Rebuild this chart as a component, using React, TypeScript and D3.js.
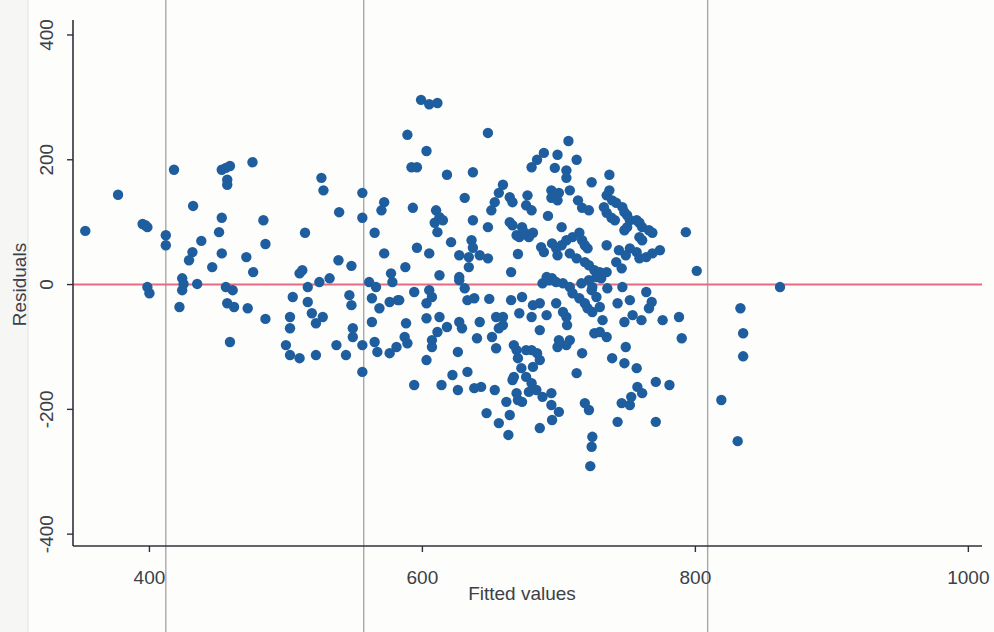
import React from "react";
import * as d3 from "d3";

const W = 994;
const H = 632;

const xTicks = [400, 600, 800, 1000];
const yTicks = [-400, -200, 0, 200, 400];
const xTitle = "Fitted values";
const yTitle = "Residuals";
const scanLines = [412, 557, 809];

// fitted values
const fitted = [
  // left region
  353, 377, 395, 397, 398.5, 398.5, 400, 412, 412, 418, 422, 424, 424, 425, 429, 431.5, 432, 435, 438, 446,
  453, 456, 459, 457, 457, 453, 451, 453, 471, 476, 475.5, 483.5, 485, 456, 461, 457, 462, 472, 459, 485,
  514, 526, 527.5, 539, 510, 512, 516, 524.5, 532, 505, 516, 519, 527, 522, 503, 503, 500, 503, 510, 522,
  537, 544, 538.5, 548, 556, 556, 565, 572, 570, 572, 577, 578, 561, 566, 563, 568.5, 576, 582, 546.5, 548,
  549, 549, 563, 556, 565, 567, 556, 576, 581,
  // upper middle
  599, 605, 611, 589, 648, 707, 603, 592, 596, 618, 637, 593, 631, 610, 612.5, 609, 615, 611, 637, 648,
  596, 605, 621, 636, 637, 587.5, 612.5, 627, 634, 642, 648, 634, 627, 665, 670, 659, 656, 653, 650.5, 664,
  666, 677, 676, 680, 664, 666, 673, 675, 678, 671, 669, 681, 692, 702, 687, 689, 695, 698, 702, 705.5,
  710, 715, 717, 719, 721, 680, 684, 689, 699, 697, 713, 705.5, 705.5, 708, 694.5, 697, 700, 694.5, 699, 714,
  717, 722, 724, 737, 737, 735, 739, 742, 733, 735, 738.5, 741, 746.5, 748, 750, 752, 748, 750, 757, 759,
  761, 766, 768.5, 759, 761, 793, 735, 744, 752, 757, 742, 749, 759, 764, 768.5, 774, 746, 801, 730, 699,
  708, 713, 719, 722, 726, 727.5, 731, 735, 691, 695,
  // lower middle
  594, 583, 605, 607, 603, 627, 631, 633, 638, 649, 603, 612.5, 618, 611, 607, 607, 603, 588, 587, 589,
  627, 629, 626, 642, 640, 654, 659, 651, 654, 656, 659, 667, 669, 594, 614, 622, 633, 626, 638, 643,
  653, 661.5, 647, 656, 664, 663, 670, 672.5, 676, 680, 684, 686, 681, 676, 680, 683.5, 667, 669, 670, 673,
  688, 694.5, 694.5, 700, 686, 695, 665, 673, 681, 686, 691, 680, 686, 703, 698, 705.5, 706, 699, 705.5, 708,
  688, 693, 698, 703, 708, 710, 715, 719, 721, 724.5, 716.5, 722, 724.5, 727.5, 730, 724, 717, 713, 719, 722,
  724.5, 724, 723, 726, 730, 735, 732, 735.5, 746.5, 764, 743, 752, 754, 760.5, 766, 768, 776, 788, 790, 748,
  749, 739, 748, 757, 771, 781, 757.5, 761, 753, 746, 752, 743, 771, 671, 700, 666, 678,
  // right outliers
  862, 833, 835, 835, 819, 831,
];

// residuals
const residuals = [
  // left region
  86, 144, 97, 95, 92, -4, -14, 79, 63, 184, -36, 10, -9, 1, 39, 52, 126, 1, 70, 28,
  184, 187, 190, 160, 168, 107, 84, 50, 44, 20, 196, 103, 65, -4, -9, -30, -36, -38, -92, -55,
  83, 171, 151, 116, 18, 23, -4, 4, 10, -20, -28, -46, -52, -62, -52, -70, -97, -113, -118, -113,
  -97, -113, 39, 30, 147, 107, 83, 132, 119, 50, 18, 4, 4, -4, -22, -38, -28, -25, -17, -33,
  -70, -84, -60, -97, -92, -108, -140, -110, -100,
  // upper middle
  296, 289, 291, 240, 243, 230, 214, 188, 188, 176, 180, 123, 139, 119, 108, 99, 103, 84, 103, 92,
  59, 50, 68, 71, 59, 28, 15, 47, 44, 47, 42, 28, 12, 20, 49, 160, 147, 132, 119, 140,
  132, 143, 127, 119, 100, 95, 92, 83, 76, 76, 79, 83, 110, 92, 60, 52, 66, 58, 63, 71,
  76, 83, 71, 63, 58, 188, 200, 211, 208, 187, 200, 183, 171, 151, 151, 143, 147, 139, 135, 135,
  123, 119, 164, 176, 151, 143, 135, 131, 124, 115, 107, 103, 124, 116, 111, 103, 87, 92, 103, 99,
  92, 87, 83, 76, 71, 84, 63, 55, 58, 52, 36, 47, 42, 44, 50, 55, 26, 22, 20, 47,
  50, 42, 36, 31, 23, 12, 10, 20, 12, 10,
  // lower middle
  -12, -25, -9, -20, -30, 7, -6, -25, -22, -23, -54, -52, -68, -76, -89, -100, -121, -62, -84, -94,
  -60, -70, -108, -60, -86, -52, -52, -84, -102, -70, -65, -97, -105, -161, -161, -145, -140, -169, -166, -164,
  -169, -188, -206, -222, -209, -241, -118, -134, -105, -105, -110, -121, -132, -148, -158, -169, -148, -174, -185, -188,
  -180, -174, -193, -204, -230, -217, -25, -20, -33, -30, -49, -52, -73, -44, -30, -52, -65, -100, -97, -89,
  2, 7, 4, 2, -4, -14, -22, -30, -38, -44, 2, 7, -4, -20, -36, -9, -110, -142, -190, -201,
  -244, -260, -291, -78, -76, -84, -57, -6, -4, -12, -30, -25, -49, -57, -38, -28, -57, -52, -86, -60,
  -100, -118, -126, -134, -156, -161, -164, -174, -180, -190, -193, -220, -220, -46, -89, -153, -172,
  // right outliers
  -4, -38, -78, -115, -185, -251,
];

const points = fitted.map((f, i) => ({ f, r: residuals[i] }));

export default function App() {
  const x = d3.scaleLinear().domain([344, 1010]).range([73, 982]);
  const y = d3.scaleLinear().domain([-419, 424]).range([546, 20]);
  const textColor = "#3c4047";
  const axisColor = "#2e3238";
  const font = "'Liberation Sans', Arial, sans-serif";

  return (
    <svg
      width={W}
      height={H}
      style={{ position: "fixed", left: 0, top: 0, background: "#fdfdfc" }}
      fontFamily={font}
    >
      <rect x={0} y={0} width={W} height={H} fill="#fdfdfc" />
      <rect x={0} y={0} width={28} height={H} fill="#f6f6f5" />
      <line x1={28} x2={28} y1={0} y2={H} stroke="#e2e2e2" strokeWidth={1} />
      {scanLines.map((v, i) => (
        <line key={i} x1={x(v)} x2={x(v)} y1={0} y2={H} stroke="#a9a9a9" strokeWidth={1.4} />
      ))}

      {/* zero reference line */}
      <line x1={x.range()[0]} x2={x.range()[1]} y1={y(0)} y2={y(0)} stroke="#e56a82" strokeWidth={2} />

      {/* axes */}
      <line x1={x.range()[0]} x2={x.range()[0]} y1={y.range()[1]} y2={y.range()[0]} stroke={axisColor} strokeWidth={1.6} />
      <line x1={x.range()[0]} x2={x.range()[1]} y1={y.range()[0]} y2={y.range()[0]} stroke={axisColor} strokeWidth={1.6} />

      {yTicks.map((t) => (
        <g key={"y" + t}>
          <line x1={x.range()[0] - 6} x2={x.range()[0]} y1={y(t)} y2={y(t)} stroke={axisColor} strokeWidth={1.4} />
          <text
            transform={`translate(53,${y(t)}) rotate(-90)`}
            textAnchor="middle"
            fontSize={19}
            fill={textColor}
          >
            {t}
          </text>
        </g>
      ))}
      {xTicks.map((t) => (
        <g key={"x" + t}>
          <line x1={x(t)} x2={x(t)} y1={y.range()[0]} y2={y.range()[0] + 6} stroke={axisColor} strokeWidth={1.4} />
          <text x={x(t)} y={584} textAnchor="middle" fontSize={19} fill={textColor}>
            {t}
          </text>
        </g>
      ))}

      <text x={522} y={600} textAnchor="middle" fontSize={19} fill={textColor}>
        {xTitle}
      </text>
      <text transform={`translate(26,${y(0)}) rotate(-90)`} textAnchor="middle" fontSize={19} fill={textColor}>
        {yTitle}
      </text>

      {points.map((p, i) => (
        <circle key={i} cx={x(p.f)} cy={y(p.r)} r={5.2} fill="#1f5e9e" />
      ))}
    </svg>
  );
}
